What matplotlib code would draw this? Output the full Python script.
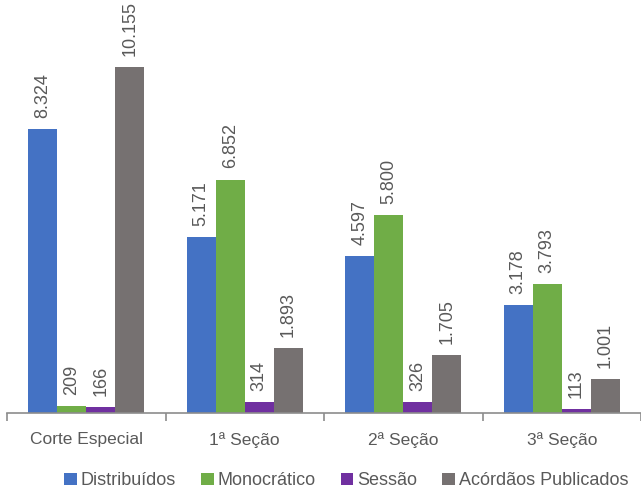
import matplotlib.pyplot as plt
import numpy as np
from matplotlib import font_manager

# dados
categorias = ['Corte Especial', '1ª Seção', '2ª Seção', '3ª Seção']
series = ['Distribuídos', 'Monocrático', 'Sessão', 'Acórdãos Publicados']
distribuidos = [8324, 5171, 4597, 3178]
monocratico = [209, 6852, 5800, 3793]
sessao = [166, 314, 326, 113]
acordaos = [10155, 1893, 1705, 1001]
cores = ['#4472C4', '#70AD47', '#7030A0', '#767171']

fam = ['Liberation Sans Narrow', 'Liberation Sans', 'DejaVu Sans']
nomes = {f.name for f in font_manager.fontManager.ttflist}
fam = [f for f in fam if f in nomes]
plt.rcParams['font.family'] = fam
txt = '#595959'

fig = plt.figure(figsize=(6.41, 4.95), dpi=100)
ax = fig.add_axes([0.011, 0.1657, 0.989, 0.826])

x = np.arange(len(categorias))
w = 0.183
valores = [distribuidos, monocratico, sessao, acordaos]
for i, (nome, vals, cor) in enumerate(zip(series, valores, cores)):
    pos = x + (i - 1.5) * w
    barras = ax.bar(pos, vals, w, color=cor, label=nome)
    for b, v in zip(barras, vals):
        rotulo = f'{v:,}'.replace(',', '.')
        ax.annotate(rotulo, (b.get_x() + b.get_width() / 2, v),
                    xytext=(0, 8), textcoords='offset points',
                    rotation=90, ha='center', va='bottom',
                    fontsize=13, color=txt)

ax.set_xlim(-0.5, len(categorias) - 0.5)
ax.set_ylim(0, 12000)
ax.set_yticks([])
for s in ['top', 'right', 'left']:
    ax.spines[s].set_visible(False)
ax.spines['bottom'].set_color('#8c8c8c')
ax.spines['bottom'].set_linewidth(1.2)

ax.set_xticks(x)
ax.set_xticklabels(categorias, fontsize=12.5, color=txt)
ax.tick_params(axis='x', length=0, pad=14)
ax.set_xticks(np.arange(len(categorias) + 1) - 0.5, minor=True)
ax.tick_params(axis='x', which='minor', length=6, color='#8c8c8c', width=1.2)

ax.legend(loc='upper center', bbox_to_anchor=(0.535, -0.105), ncol=4,
          frameon=False, fontsize=13, labelcolor=txt,
          handlelength=0.7, handleheight=0.7, handletextpad=0.2,
          columnspacing=1.4)

fig.savefig('out.png', dpi=100)
